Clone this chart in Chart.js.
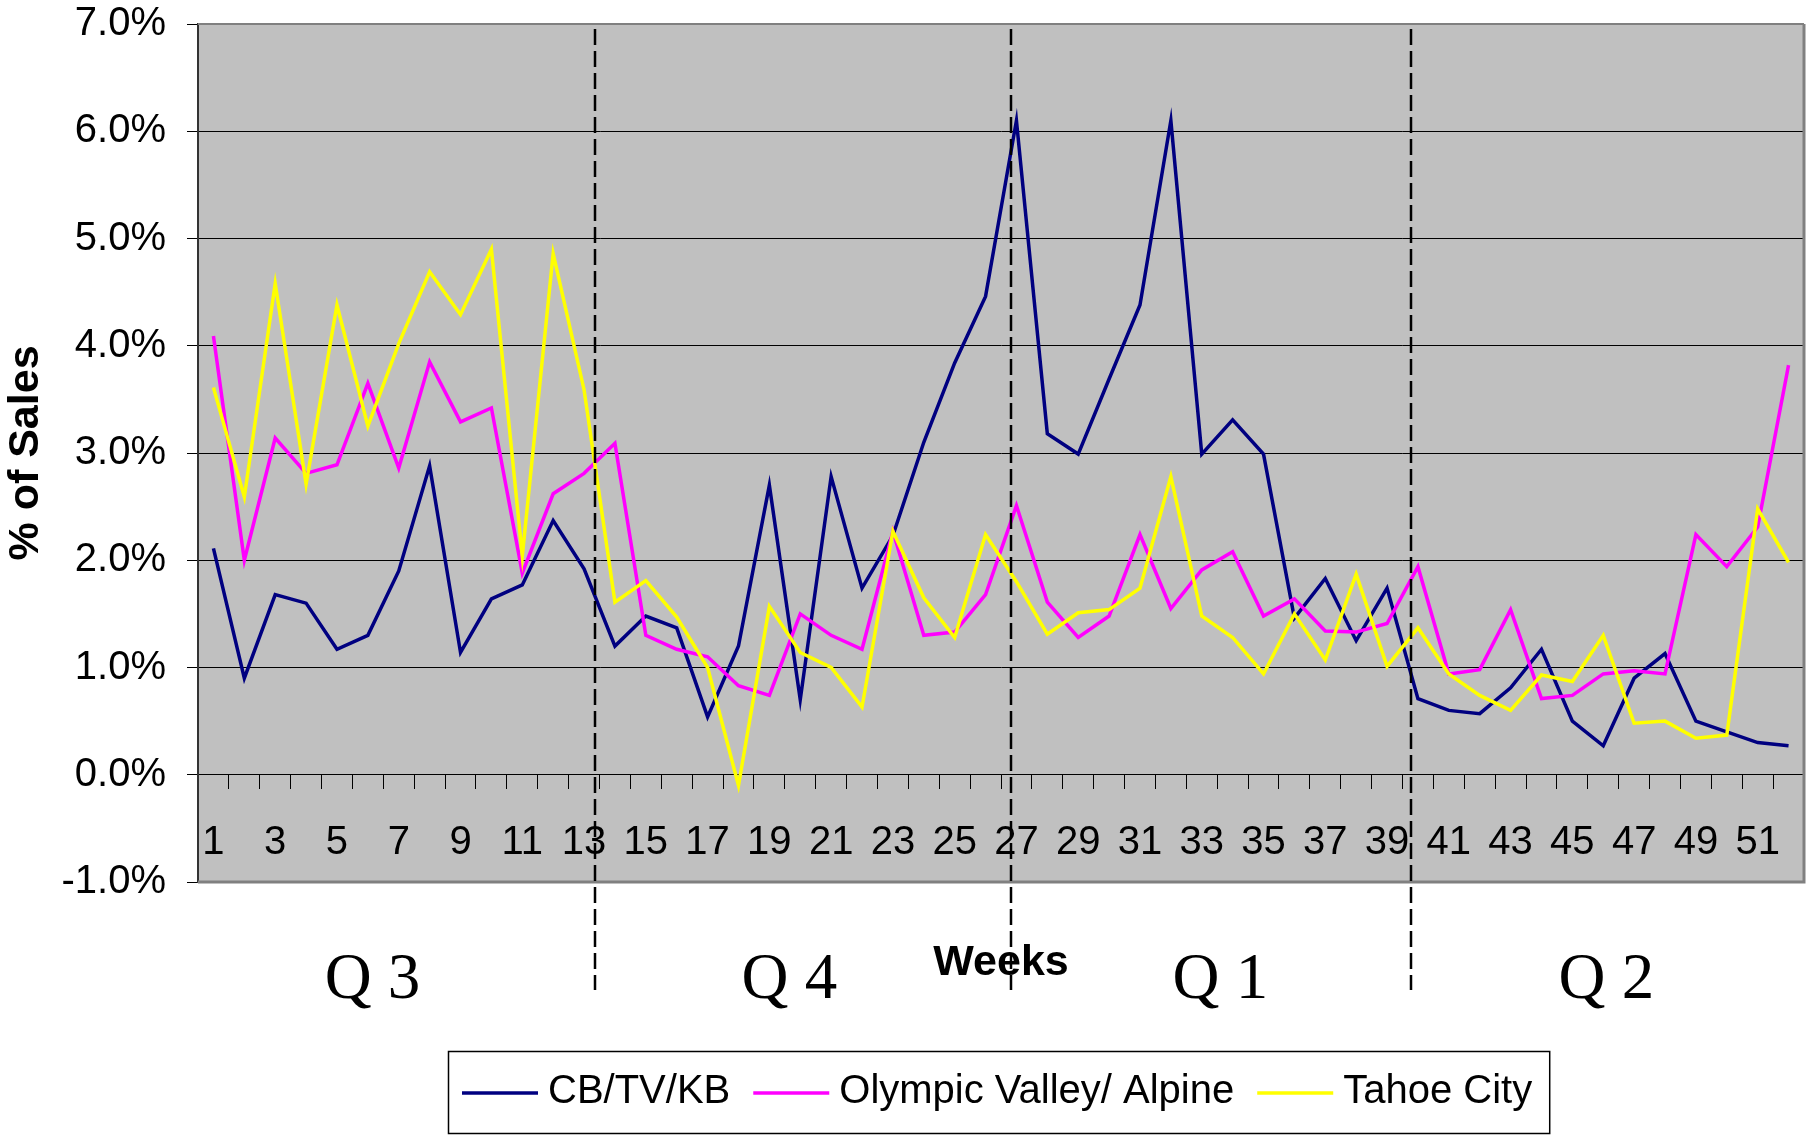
<!DOCTYPE html>
<html>
<head>
<meta charset="utf-8">
<title>% of Sales by week</title>
<script src="https://cdn.jsdelivr.net/npm/chart.js@4.4.1/dist/chart.umd.min.js"></script>
<style>
    html, body { margin: 0; padding: 0; background: #fff; }
    canvas { display: block; }
</style>
</head>
<body>
<canvas id="salesChart" width="1808" height="1139"></canvas>
<script>
// ---- Data ----
const weeks = ["1", "2", "3", "4", "5", "6", "7", "8", "9", "10", "11", "12", "13",
               "14", "15", "16", "17", "18", "19", "20", "21", "22", "23", "24", "25", "26",
               "27", "28", "29", "30", "31", "32", "33", "34", "35", "36", "37", "38", "39",
               "40", "41", "42", "43", "44", "45", "46", "47", "48", "49", "50", "51", "52"];

const cbTvKb = [2.11, 0.90, 1.68, 1.60, 1.17, 1.30, 1.90, 2.88, 1.14, 1.64, 1.77, 2.37, 1.92,
                1.20, 1.48, 1.37, 0.54, 1.20, 2.70, 0.70, 2.78, 1.74, 2.23, 3.10, 3.84, 4.46,
                6.10, 3.18, 2.99, 3.69, 4.38, 6.10, 2.99, 3.31, 2.99, 1.46, 1.83, 1.25, 1.74,
                0.71, 0.60, 0.57, 0.81, 1.17, 0.50, 0.27, 0.90, 1.13, 0.50, 0.40, 0.30, 0.27];

const olympicValley = [4.09, 2.00, 3.14, 2.81, 2.89, 3.65, 2.86, 3.85, 3.29, 3.42, 1.88, 2.62, 2.81,
                       3.09, 1.30, 1.17, 1.10, 0.83, 0.74, 1.50, 1.30, 1.17, 2.27, 1.30, 1.33, 1.68,
                       2.51, 1.61, 1.28, 1.48, 2.24, 1.55, 1.91, 2.08, 1.48, 1.64, 1.34, 1.33, 1.41,
                       1.94, 0.94, 0.98, 1.54, 0.71, 0.74, 0.94, 0.97, 0.94, 2.24, 1.94, 2.31, 3.82];

const tahoeCity = [3.61, 2.59, 4.58, 2.71, 4.38, 3.25, 4.02, 4.69, 4.29, 4.90, 2.04, 4.86, 3.59,
                   1.61, 1.81, 1.47, 1.00, -0.10, 1.57, 1.14, 1.00, 0.63, 2.27, 1.65, 1.28, 2.24,
                   1.80, 1.31, 1.51, 1.54, 1.74, 2.78, 1.48, 1.28, 0.94, 1.50, 1.07, 1.87, 1.01,
                   1.37, 0.94, 0.74, 0.60, 0.93, 0.87, 1.30, 0.48, 0.50, 0.34, 0.37, 2.48, 1.98];

const seriesNames  = ["CB/TV/KB", "Olympic Valley/ Alpine", "Tahoe City"];
const seriesColors = ["#000080", "#FF00FF", "#FFFF00"];

// quarters (positions in weeks)
const quarterNames   = ["Q 3", "Q 4", "Q 1", "Q 2"];
const quarterCenters = [6.15, 19.65, 33.6, 46.1];
const quarterBreaks  = [13.35, 26.83, 39.77];

const yMin = -1;
const yMax = 7;

Chart.defaults.font.family = "'Liberation Sans', Arial, sans-serif";
Chart.defaults.color = "#000";

// ---- Helpers ----
function weekPixel(scale, w) {
    const p0 = scale.getPixelForValue(0);
    const step = scale.getPixelForValue(1) - p0;
    return p0 + (w - 1) * step;
}

function drawLegend(chart) {
    const { ctx, chartArea: a } = chart;
    ctx.font = "40px 'Liberation Sans', Arial, sans-serif";
    const sample = 76, gap = 10, spacing = 23, padL = 14, padR = 17;
    const items = chart.data.datasets.map(ds => ({
        text: ds.label,
        color: ds.borderColor,
        w: ctx.measureText(ds.label).width
    }));
    const contentW = items.reduce((s, it) => s + sample + gap + it.w, 0) + spacing * (items.length - 1);
    const boxW = contentW + padL + padR;
    const boxLeft = Math.round((a.left + a.right) / 2 - 2 - boxW / 2);
    const boxTop = Math.round(a.bottom + 169);
    const boxH = 82;

    ctx.strokeStyle = "#000";
    ctx.lineWidth = 1.5;
    ctx.strokeRect(boxLeft + 0.5, boxTop + 0.5, boxW, boxH);

    let cx = boxLeft + padL;
    const lineY = boxTop + 42;
    ctx.textAlign = "left";
    ctx.textBaseline = "alphabetic";
    items.forEach(it => {
        ctx.strokeStyle = it.color;
        ctx.lineWidth = 3.5;
        ctx.beginPath();
        ctx.moveTo(cx, lineY);
        ctx.lineTo(cx + sample, lineY);
        ctx.stroke();
        ctx.fillStyle = "#000";
        ctx.fillText(it.text, cx + sample + gap, boxTop + 52);
        cx += sample + gap + it.w + spacing;
    });
}

// ---- Plot background, quarter lines, labels and legend ----
const decorations = {
    id: "decorations",
    beforeDraw(chart) {
        const { ctx, chartArea: a } = chart;
        ctx.save();
        ctx.fillStyle = "#C0C0C0";
        ctx.fillRect(a.left, a.top, a.right - a.left, a.bottom - a.top);
        ctx.restore();
    },
    afterDraw(chart) {
        const { ctx, chartArea: a, scales: { x } } = chart;
        ctx.save();

        // plot border
        ctx.strokeStyle = "#808080";
        ctx.lineWidth = 2;
        ctx.beginPath();
        ctx.moveTo(a.left, a.top);
        ctx.lineTo(a.right, a.top);
        ctx.stroke();
        ctx.lineWidth = 3;
        ctx.beginPath();
        ctx.moveTo(a.right, a.top);
        ctx.lineTo(a.right, a.bottom);
        ctx.lineTo(a.left, a.bottom);
        ctx.stroke();

        // dashed quarter breaks
        ctx.strokeStyle = "#000";
        ctx.lineWidth = 2.5;
        ctx.setLineDash([16, 6]);
        quarterBreaks.forEach(w => {
            const px = Math.round(weekPixel(x, w));
            ctx.beginPath();
            ctx.moveTo(px, a.top + 5);
            ctx.lineTo(px, a.bottom + 108);
            ctx.stroke();
        });
        ctx.setLineDash([]);

        // quarter labels
        ctx.fillStyle = "#000";
        ctx.textAlign = "center";
        ctx.textBaseline = "alphabetic";
        ctx.font = "65px 'Liberation Serif', 'Times New Roman', serif";
        quarterNames.forEach((q, i) => {
            ctx.fillText(q, weekPixel(x, quarterCenters[i]), a.bottom + 116);
        });

        // x title
        ctx.font = "bold 43px 'Liberation Sans', Arial, sans-serif";
        ctx.fillText("Weeks", (a.left + a.right) / 2, a.bottom + 93);

        drawLegend(chart);
        ctx.restore();
    }
};

// ---- Chart ----
const canvas = document.getElementById("salesChart");

new Chart(canvas, {
    type: "line",
    data: {
        labels: weeks,
        datasets: [
            { label: seriesNames[0], data: cbTvKb, borderColor: seriesColors[0], order: 3 },
            { label: seriesNames[1], data: olympicValley, borderColor: seriesColors[1], order: 2 },
            { label: seriesNames[2], data: tahoeCity, borderColor: seriesColors[2], order: 1 }
        ].map(ds => Object.assign(ds, {
            backgroundColor: ds.borderColor,
            borderWidth: 3.5,
            pointRadius: 0,
            tension: 0,
            fill: false
        }))
    },
    options: {
        responsive: false,
        animation: false,
        devicePixelRatio: 1,
        layout: { padding: { top: 24, right: 4, bottom: 257, left: 0 } },
        plugins: {
            legend: { display: false },
            tooltip: { enabled: false }
        },
        scales: {
            x: {
                type: "category",
                position: { y: 0 },
                offset: true,
                grid: {
                    drawOnChartArea: false,
                    drawTicks: true,
                    tickLength: 14,
                    offset: true,
                    color: "#000"
                },
                border: { display: true, color: "#000", width: 1 },
                ticks: {
                    autoSkip: false,
                    maxRotation: 0,
                    padding: 30,
                    font: { size: 40 },
                    callback: (v, i) => (i % 2 === 0 ? weeks[i] : "")
                },
                afterFit: s => {
                    s.height = 0;
                    s.paddingLeft = 0;
                    s.paddingRight = 0;
                }
            },
            y: {
                min: yMin,
                max: yMax,
                grid: {
                    color: "#000",
                    lineWidth: 1,
                    tickLength: 11
                },
                border: { color: "#333", width: 2 },
                ticks: {
                    stepSize: 1,
                    padding: 21,
                    font: { size: 40 },
                    callback: v => v.toFixed(1) + "%"
                },
                title: {
                    display: true,
                    text: "% of Sales",
                    font: { size: 43, weight: "bold" },
                    padding: 0
                },
                afterFit: s => {
                    s.width = 198;
                    s.paddingTop = 0;
                    s.paddingBottom = 0;
                }
            }
        }
    },
    plugins: [decorations]
});
</script>
</body>
</html>
